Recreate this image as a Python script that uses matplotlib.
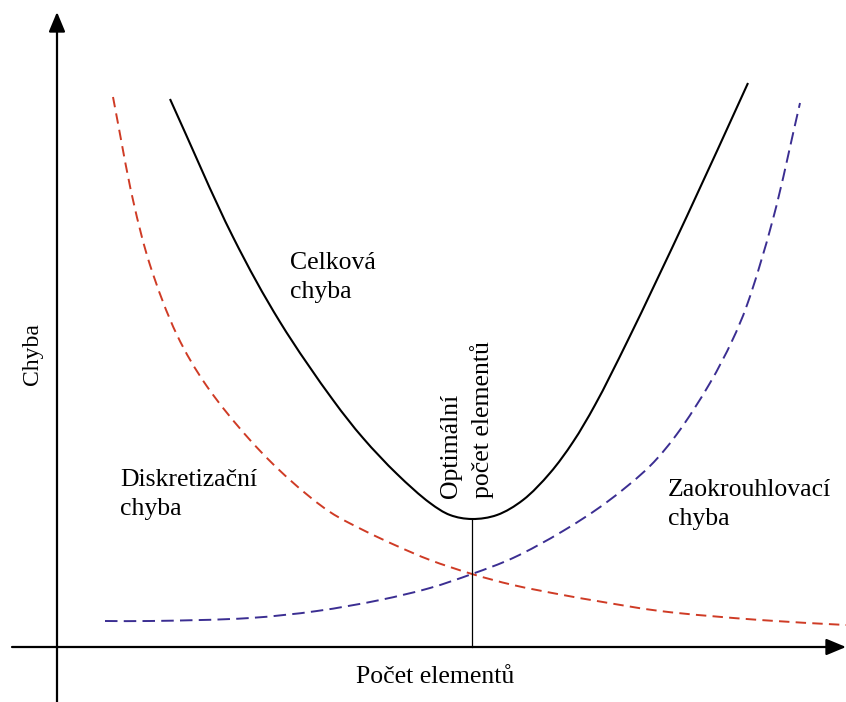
import matplotlib
matplotlib.use("Agg")
import matplotlib.pyplot as plt
import numpy as np
from matplotlib.path import Path
from matplotlib.patches import PathPatch

plt.rcParams['font.family'] = ['Liberation Serif', 'DejaVu Serif']
plt.rcParams['lines.scale_dashes'] = False

# Discretization error (decreases with number of elements)
disc_x = [5.6, 7.6, 9.3, 12.0, 14.9, 19.3, 23.3, 27.3, 30.6, 34.0, 37.3, 41.5,
          45.6, 50.6, 54.0, 60.3, 70.3, 78.9]
disc_y = [55.0, 44.7, 38.2, 31.2, 26.2, 20.7, 16.7, 13.5, 11.7, 10.1, 8.7, 7.3,
          6.2, 5.2, 4.6, 3.6, 2.7, 2.2]

# Round-off error (grows with number of elements)
round_x = [4.8, 9.3, 19.3, 26.0, 32.3, 37.3, 41.5, 45.6, 50.6, 55.0, 59.3, 62.0,
           65.3, 67.5, 69.0, 71.6, 74.3]
round_y = [2.6, 2.6, 2.9, 3.6, 4.7, 5.9, 7.3, 8.9, 11.6, 14.5, 18.1, 21.3,
           26.4, 30.6, 34.2, 42.8, 54.4]

# Total error
total_x = [11.3, 17.6, 22.3, 27.6, 30.6, 34.0, 37.3, 39.3, 41.5, 44.0, 46.6, 49.3,
           51.6, 53.8, 57.1, 63.0, 69.1]
total_y = [54.8, 41.0, 32.5, 24.7, 20.9, 17.3, 14.4, 13.2, 12.8, 13.2, 14.7, 17.4,
           20.5, 24.2, 30.7, 43.1, 56.4]

# Optimal number of elements and the minimum total error
opt_x = 41.5
opt_y = 12.8


def smooth_path(xs, ys, alpha=0.5):
    """Centripetal Catmull-Rom curve through the points, as cubic Bezier segments."""
    p = np.column_stack([xs, ys]).astype(float)
    n = len(p)
    d = np.linalg.norm(np.diff(p, axis=0), axis=1) ** alpha
    t = np.concatenate([[0.0], np.cumsum(d)])
    m = np.zeros_like(p)
    m[0] = (p[1] - p[0]) / (t[1] - t[0])
    m[-1] = (p[-1] - p[-2]) / (t[-1] - t[-2])
    for i in range(1, n - 1):
        m[i] = ((p[i] - p[i - 1]) / (t[i] - t[i - 1])
                - (p[i + 1] - p[i - 1]) / (t[i + 1] - t[i - 1])
                + (p[i + 1] - p[i]) / (t[i + 1] - t[i]))
    verts = [p[0]]
    codes = [Path.MOVETO]
    for i in range(n - 1):
        h = t[i + 1] - t[i]
        verts += [p[i] + m[i] * h / 3.0, p[i + 1] - m[i + 1] * h / 3.0, p[i + 1]]
        codes += [Path.CURVE4] * 3
    return Path(verts, codes)


fig = plt.figure(figsize=(8.46, 7.02), dpi=100)
ax = fig.add_axes([0, 0, 1, 1])
ax.set_xlim(-5.7, 78.9)
ax.set_ylim(-5.5, 64.7)
ax.axis('off')

FS = 18.5
LS = 1.44

# Axes with arrow heads
arrow = dict(arrowstyle='-|>,head_length=0.6,head_width=0.25', color='black',
             lw=1.6, mutation_scale=20, shrinkA=0, shrinkB=0)
ax.annotate('', xy=(78.9, 0), xytext=(-4.5, 0), arrowprops=arrow)
ax.annotate('', xy=(0, 63.5), xytext=(0, -5.5), arrowprops=arrow)

# Curves
ax.add_patch(PathPatch(smooth_path(disc_x, disc_y), fill=False, edgecolor='#cf3b25',
                       lw=1.4, linestyle=(0, (7.5, 4.5))))
ax.add_patch(PathPatch(smooth_path(round_x, round_y), fill=False, edgecolor='#3b2e92',
                       lw=1.4, linestyle=(0, (9, 4.5))))
ax.add_patch(PathPatch(smooth_path(total_x, total_y), fill=False, edgecolor='black',
                       lw=1.5))
ax.plot([opt_x, opt_x], [0, opt_y], color='black', lw=0.9)

# Labels
ax.text(23.3, 34.9, 'Celková\nchyba', fontsize=FS, ha='left', va='baseline',
        linespacing=LS)
ax.text(6.3, 13.2, 'Diskretizační\nchyba', fontsize=FS, ha='left', va='baseline',
        linespacing=LS)
ax.text(61.1, 12.2, 'Zaokrouhlovací\nchyba', fontsize=FS, ha='left', va='baseline',
        linespacing=LS)
ax.text(41.0, 14.9, 'Optimální\npočet elementů', fontsize=FS, rotation=90,
        ha='center', va='bottom', multialignment='left', linespacing=LS)
ax.text(-2.4, 29.3, 'Chyba', fontsize=17, rotation=90, ha='center', va='center')
ax.text(37.8, -3.6, 'Počet elementů', fontsize=FS, ha='center', va='baseline')

fig.savefig('out.png', dpi=100)
